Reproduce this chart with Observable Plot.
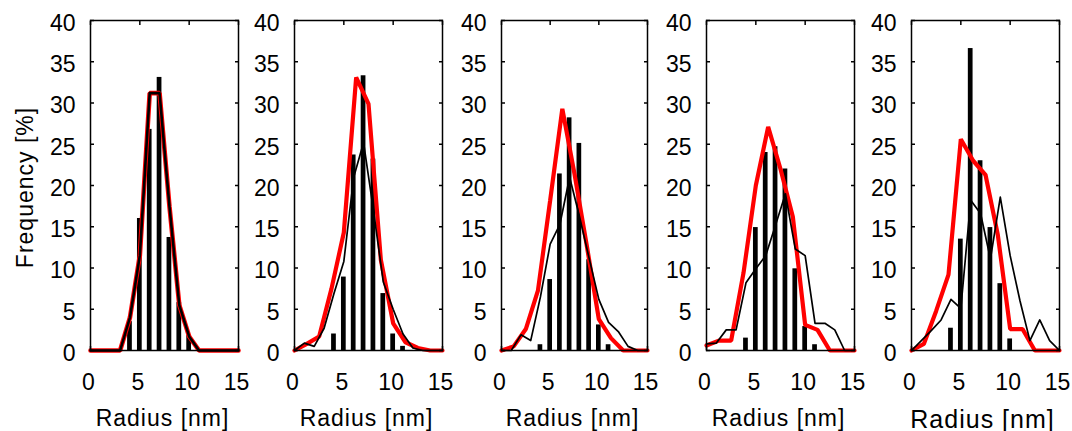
<!DOCTYPE html>
<html><head><meta charset="utf-8">
<script src="https://cdn.jsdelivr.net/npm/d3@7"></script>
<script src="https://cdn.jsdelivr.net/npm/@observablehq/plot@0.6"></script>
<style>
html,body{margin:0;padding:0;background:#fff;}
#chart{position:relative;width:1072px;height:431px;overflow:hidden;background:#fff;}
#chart svg{position:absolute;top:0;}
</style></head><body><div id="chart"></div>
<script>
// ---- data ----
const radiusTicks = [0, 5, 10, 15];
const freqTicks = [0, 5, 10, 15, 20, 25, 30, 35, 40];
const xLabel = "Radius [nm]";
const yLabel = "Frequency [%]";

// black thin line: radius grid 0..15 step 1
const blackRadius = [0, 1, 2, 3, 4, 5, 6, 7, 8, 9, 10, 11, 12, 13, 14, 15];
// red thick line: radius grid 0..15 step 1.25 (panels 2-5)
const redRadius = [0, 1.25, 2.5, 3.75, 5, 6.25, 7.5, 8.75, 10, 11.25, 12.5, 13.75, 15];

// histogram bars
const barRadius1 = [4, 5, 6, 7, 8, 9, 10];
const barFreq1 = [3.5, 16.0, 26.8, 33.1, 13.7, 5.8, 1.8];
const barRadius2 = [4, 5, 6, 7, 8, 9, 10, 11];
const barFreq2 = [2.0, 8.9, 23.7, 33.3, 23.2, 6.9, 2.0, 0.5];
const barRadius3 = [4, 5, 6, 7, 8, 9, 10, 11];
const barFreq3 = [0.7, 8.6, 21.4, 28.2, 25.1, 11.0, 3.1, 0.7];
const barRadius4 = [4, 5, 6, 7, 8, 9, 10, 11];
const barFreq4 = [1.5, 14.9, 24.0, 24.7, 22.0, 9.9, 2.9, 0.7];
const barRadius5 = [4, 5, 6, 7, 8, 9, 10];
const barFreq5 = [2.7, 13.5, 36.6, 23.0, 14.9, 8.1, 1.4];

// black lines
const blackFreq1 = [0, 0, 0, 0, 4.0, 11.5, 31.2, 31.2, 17.5, 5.5, 1.7, 0, 0, 0, 0, 0];
const blackFreq2 = [0, 0.9, 0.5, 2.7, 6.9, 10.8, 21.0, 25.2, 17.0, 8.3, 5.0, 2.0, 0.3, 0, 0, 0];
const blackFreq3 = [0, 0, 1.9, 1.2, 6.5, 12.9, 15.3, 21.0, 16.3, 11.2, 6.2, 3.4, 2.3, 0.5, 0, 0];
const blackFreq4 = [0.8, 0.9, 2.5, 2.5, 8.2, 9.9, 11.5, 15.2, 19.0, 12.3, 11.5, 3.3, 3.3, 2.5, 0, 0];
const blackFreq5 = [0, 1.2, 2.4, 3.7, 6.2, 5.1, 18.2, 16.6, 11.1, 18.6, 11.5, 6.0, 1.2, 3.7, 1.2, 0];

// red lines (panel 1 uses the black grid and coincides with the black line)
const redFreq1 = [0, 0, 0, 0, 4.0, 11.5, 31.2, 31.2, 17.5, 5.5, 1.7, 0, 0, 0, 0, 0];
const redFreq2 = [0, 0.8, 1.7, 7.5, 14.3, 33.1, 29.9, 11.0, 3.3, 1.0, 0.3, 0, 0];
const redFreq3 = [0, 0.5, 2.6, 7.3, 18.2, 29.3, 21.4, 12.8, 3.8, 1.5, 0, 0, 0];
const redFreq4 = [0.6, 1.2, 1.2, 9.4, 20.0, 27.1, 22.0, 16.2, 3.1, 2.5, 0, 0, 0];
const redFreq5 = [0, 0.8, 4.8, 9.2, 25.6, 23.0, 21.3, 14.0, 2.6, 2.6, 0, 0, 0];

// ---- build ----
const zip = (xs, ys) => xs.map((r, i) => ({r, v: ys[i]}));
const panels = [
  {bars: zip(barRadius1, barFreq1), black: zip(blackRadius, blackFreq1), red: zip(blackRadius, redFreq1)},
  {bars: zip(barRadius2, barFreq2), black: zip(blackRadius, blackFreq2), red: zip(redRadius, redFreq2)},
  {bars: zip(barRadius3, barFreq3), black: zip(blackRadius, blackFreq3), red: zip(redRadius, redFreq3)},
  {bars: zip(barRadius4, barFreq4), black: zip(blackRadius, blackFreq4), red: zip(redRadius, redFreq4)},
  {bars: zip(barRadius5, barFreq5), black: zip(blackRadius, blackFreq5), red: zip(redRadius, redFreq5)}
];

const frameLefts = [90, 294, 501, 706, 911];
const frameWidths = [148, 148, 146, 148, 148];
const chart = document.getElementById("chart");
const FONT = '"Liberation Sans", Arial, Helvetica, sans-serif';

panels.forEach((p, i) => {
  const marginLeft = i === 0 ? 90 : 55;
  const marginRight = 2;
  const width = marginLeft + frameWidths[i] + marginRight;
  const first = i === 0;
  const last = i === panels.length - 1;
  const marks = [
    Plot.rectY(p.bars, {x1: d => d.r - 0.24, x2: d => d.r + 0.24, y: "v", fill: "black"}),
    Plot.line(p.red, {x: "r", y: "v", stroke: "#ff0000", strokeWidth: first ? 4.6 : 4.2, strokeLinejoin: "miter"}),
    Plot.line(p.black, {x: "r", y: "v", stroke: "black", strokeWidth: first ? 2.6 : 1.7}),
    Plot.frame({stroke: "black", strokeWidth: 1.5}),
    Plot.axisY({ticks: freqTicks, anchor: "left", tickSize: 4, dx: 4, fill: "none", stroke: "black", strokeWidth: 1.5, label: null}),
    Plot.axisY({ticks: freqTicks, anchor: "right", tickSize: 4, dx: -4, fill: "none", stroke: "black", strokeWidth: 1.5, label: null}),
    Plot.axisX({ticks: radiusTicks, anchor: "bottom", tickSize: 4, dy: -4, fill: "none", stroke: "black", strokeWidth: 1.5, label: null}),
    Plot.axisX({ticks: radiusTicks, anchor: "top", tickSize: 4, dy: 4, fill: "none", stroke: "black", strokeWidth: 1.5, label: null}),
    Plot.axisY({ticks: freqTicks, anchor: "left", tickSize: 0, tickPadding: 15, dy: 3, fill: "black", fontSize: 23, label: null}),
    Plot.axisX({ticks: radiusTicks, anchor: "bottom", tickSize: 0, tickPadding: 23, dx: -2, fill: "black", fontSize: 23, label: null}),
    Plot.text([xLabel], {text: d => d, frameAnchor: "bottom", textAnchor: "middle", lineAnchor: "bottom", dy: last ? 77 : 75, dx: last ? -3 : -2, fontSize: last ? 25 : 23, fill: "black"})
  ];
  if (first) {
    marks.push(Plot.text([yLabel], {text: d => d, frameAnchor: "left", textAnchor: "middle", dx: -65, dy: 2, rotate: -90, fontSize: 23, fill: "black"}));
  }
  const svg = Plot.plot({
    width, height: 431,
    marginLeft, marginRight, marginTop: 20, marginBottom: 81,
    x: {type: "linear", domain: [0, 15], axis: null},
    y: {type: "linear", domain: [0, 40], axis: null},
    style: {fontFamily: FONT, fontSize: "22px", background: "transparent", color: "black", overflow: "visible"},
    marks
  });
  svg.style.left = (frameLefts[i] - marginLeft) + "px";
  svg.querySelectorAll('g[aria-label="text"] text').forEach(t => t.style.letterSpacing = "1px");
  chart.appendChild(svg);
});
</script>
</body></html>
